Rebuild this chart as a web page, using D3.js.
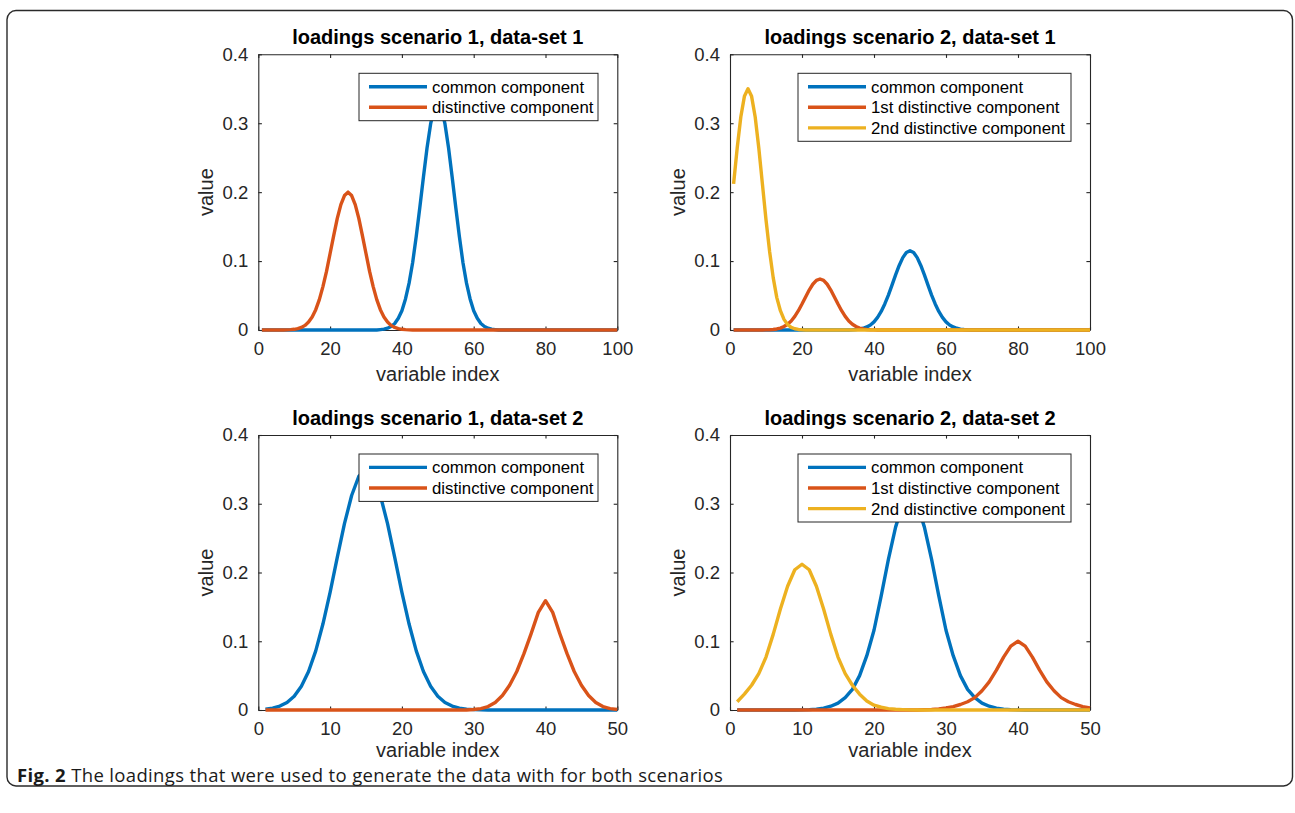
<!DOCTYPE html>
<html>
<head>
<meta charset="utf-8">
<script src="https://cdn.jsdelivr.net/npm/d3@7/dist/d3.min.js"></script>
<style>
  html, body { margin: 0; padding: 0; background: #fff; }
  svg { display: block; }
</style>
</head>
<body>
<svg id="chart" width="1295" height="813"></svg>
<script>
// ---------------- data ----------------
const panelTitles = [
  "loadings scenario 1, data-set 1",
  "loadings scenario 2, data-set 1",
  "loadings scenario 1, data-set 2",
  "loadings scenario 2, data-set 2"
];
const legendLabels2 = ["common component", "distinctive component"];
const legendLabels3 = ["common component", "1st distinctive component", "2nd distinctive component"];
const xTicks100 = [0, 20, 40, 60, 80, 100];
const xTicks50 = [0, 10, 20, 30, 40, 50];
const yTicks = [0, 0.1, 0.2, 0.3, 0.4];
const yTickLabels = ["0", "0.1", "0.2", "0.3", "0.4"];
const xLabel = "variable index";
const yLabel = "value";
const captionBold = "Fig. 2";
const captionText = " The loadings that were used to generate the data with for both scenarios";

// scenario 1, data-set 1 (variables 1..100)
const s1d1Common = [
  0,0,0,0,0,0,0,0,0,0, 0,0,0,0,0,0,0,0,0,0, 0,0,0,0,0,0,0,0,0,0, 0,0,0,
  .0006,.0013,.0026,.0051,.0094,.017,.028,.045,.068,.098,.136,.178,.222,.264,.299,.322,.330,
  .322,.299,.264,.222,.178,.136,.098,.068,.045,.028,.017,.0094,.0051,.0026,.0013,.0006,
  0,0,0,0,0,0,0,0,0,0, 0,0,0,0,0,0,0,0,0,0, 0,0,0,0,0,0,0,0,0,0, 0,0,0,0
];
const s1d1Distinct = [
  0,0,0,0,0,0,0,
  .0002,.0005,.0010,.0019,.0037,.0067,.0115,.0188,.0295,.044,.063,.085,.111,.137,.162,.182,.195,.200,
  .195,.182,.162,.137,.111,.085,.063,.044,.0295,.0188,.0115,.0067,.0037,.0019,.0010,.0005,.0002,
  0,0,0,0,0,0,0,0,0,0, 0,0,0,0,0,0,0,0,0,0, 0,0,0,0,0,0,0,0,0,0, 0,0,0,0,0,0,0,0,0,0,
  0,0,0,0,0,0,0,0,0,0, 0,0,0,0,0,0,0,0
];
// scenario 2, data-set 1 (variables 1..100)
const s2d1Common = [
  0,0,0,0,0,0,0,0,0,0, 0,0,0,0,0,0,0,0,0,0, 0,0,0,0,0,0,0,0,0,0, 0,0,
  .0001,.0003,.0007,.0013,.0025,.0044,.0073,.0118,.0183,.0269,.0378,.0507,.0652,.080,.0937,.105,.1124,.115,
  .1124,.105,.0937,.080,.0652,.0507,.0378,.0269,.0183,.0118,.0073,.0044,.0025,.0013,.0007,.0003,.0001,
  0,0,0,0,0,0,0,0,0,0, 0,0,0,0,0,0,0,0,0,0, 0,0,0,0,0,0,0,0,0,0, 0,0,0
];
const s2d1Distinct1 = [
  0,0,0,0,0,0,0,0,0,
  .0002,.0004,.0008,.0015,.0028,.0050,.0083,.0131,.0197,.028,.0377,.048,.058,.0664,.072,.074,
  .072,.0664,.058,.048,.0377,.028,.0197,.0131,.0083,.0050,.0028,.0015,.0008,.0004,.0002,
  0,0,0,0,0,0,0,0,0,0, 0,0,0,0,0,0,0,0,0,0, 0,0,0,0,0,0,0,0,0,0,
  0,0,0,0,0,0,0,0,0,0, 0,0,0,0,0,0,0,0,0,0, 0,0,0,0,0,0,0,0,0,0
];
const s2d1Distinct2 = [
  .212,.264,.309,.339,.350,.339,.309,.264,.212,.160,.114,.076,.047,.028,.0154,.008,.0039,.0018,.0008,.0003,
  0,0,0,0,0,0,0,0,0,0, 0,0,0,0,0,0,0,0,0,0, 0,0,0,0,0,0,0,0,0,0, 0,0,0,0,0,0,0,0,0,0,
  0,0,0,0,0,0,0,0,0,0, 0,0,0,0,0,0,0,0,0,0, 0,0,0,0,0,0,0,0,0,0, 0,0,0,0,0,0,0,0,0,0
];
// scenario 1, data-set 2 (variables 1..50)
const s1d2Common = [
  .0013,.0028,.0057,.0110,.0201,.0346,.056,.086,.125,.171,.222,.271,.312,.340,.350,
  .340,.312,.271,.222,.171,.125,.086,.056,.0346,.0201,.0110,.0057,.0028,.0013,.0006,.0002,
  0,0,0,0,0,0,0,0,0,0, 0,0,0,0,0,0,0,0,0
];
const s1d2Distinct = [
  0,0,0,0,0,0,0,0,0,0, 0,0,0,0,0,0,0,0,0,0, 0,0,0,0,0,0,0,0,0,
  .0007,.002,.005,.011,.021,.036,.056,.082,.111,.142,.159,
  .142,.111,.082,.056,.036,.021,.011,.005,.002,.0007
];
// scenario 2, data-set 2 (variables 1..50)
const s2d2Common = [
  0,0,0,0,0,0,0,0,0,
  .0002,.0006,.0013,.0028,.0055,.010,.018,.030,.050,.079,.116,.166,.219,.266,.300,.312,
  .300,.266,.219,.166,.116,.079,.050,.030,.018,.010,.0055,.0028,.0013,.0006,.0002,
  0,0,0,0,0,0,0,0,0,0
];
const s2d2Distinct1 = [
  0,0,0,0,0,0,0,0,0,0, 0,0,0,0,0,0,0,0,0,0, 0,0,0,0,0,0,
  .0003,.0007,.0015,.003,.005,.008,.012,.018,.028,.041,.058,.077,.093,.100,
  .093,.077,.058,.041,.028,.018,.012,.008,.005,.003
];
const s2d2Distinct2 = [
  .012,.023,.036,.053,.077,.110,.147,.180,.204,.212,
  .204,.180,.147,.110,.077,.053,.036,.023,.013,.007,.004,.002,.001,.0005,.0002,
  0,0,0,0,0,0,0,0,0,0, 0,0,0,0,0,0,0,0,0,0, 0,0,0,0,0
];

// ---------------- layout / style ----------------
const colors = ["#0072BD", "#D95319", "#EDB120"];
const axisColor = "#262626";
const FONT = "'Liberation Sans', Arial, Helvetica, sans-serif";

const panels = [
  { title: panelTitles[0], left: 258.3, right: 617.3, top: 54.3, bottom: 330, xMax: 100, xTicks: xTicks100,
    series: [s1d1Common, s1d1Distinct], labels: legendLabels2, legendLeft: 359, legendRight: 598, xLabelOff: 51 },
  { title: panelTitles[1], left: 730, right: 1090, top: 54.3, bottom: 330, xMax: 100, xTicks: xTicks100,
    series: [s2d1Common, s2d1Distinct1, s2d1Distinct2], labels: legendLabels3, legendLeft: 798, legendRight: 1071, xLabelOff: 51 },
  { title: panelTitles[2], left: 258.3, right: 617.3, top: 435, bottom: 710, xMax: 50, xTicks: xTicks50,
    series: [s1d2Common, s1d2Distinct], labels: legendLabels2, legendLeft: 359, legendRight: 598, xLabelOff: 46.5 },
  { title: panelTitles[3], left: 730, right: 1090, top: 435, bottom: 710, xMax: 50, xTicks: xTicks50,
    series: [s2d2Common, s2d2Distinct1, s2d2Distinct2], labels: legendLabels3, legendLeft: 798, legendRight: 1071, xLabelOff: 46.5 }
];

const svg = d3.select("#chart");

// outer frame
svg.append("rect")
  .attr("x", 7).attr("y", 10.5).attr("width", 1285.5).attr("height", 775.5)
  .attr("rx", 9).attr("ry", 9)
  .attr("fill", "none").attr("stroke", "#2a2a2a").attr("stroke-width", 1.4);

panels.forEach(p => {
  const g = svg.append("g");
  const x = d3.scaleLinear().domain([0, p.xMax]).range([p.left, p.right]);
  const y = d3.scaleLinear().domain([0, 0.4]).range([p.bottom, p.top]);
  const w = p.right - p.left, h = p.bottom - p.top;
  const tickLen = 3.6;

  g.append("rect").attr("x", p.left).attr("y", p.top).attr("width", w).attr("height", h).attr("fill", "#fff");

  const xAxis = d3.axisBottom(x).tickValues(p.xTicks).tickFormat(d3.format("d"))
    .tickSizeInner(-tickLen).tickSizeOuter(0).tickPadding(12);
  const yAxis = d3.axisLeft(y).tickValues(yTicks).tickFormat((d, i) => yTickLabels[i])
    .tickSizeInner(-tickLen).tickSizeOuter(0).tickPadding(10);
  const xAxisTop = d3.axisTop(x).tickValues(p.xTicks).tickFormat("").tickSizeInner(-tickLen).tickSizeOuter(0);
  const yAxisRight = d3.axisRight(y).tickValues(yTicks).tickFormat("").tickSizeInner(-tickLen).tickSizeOuter(0);

  const styleAxis = sel => {
    sel.selectAll("path").attr("stroke", axisColor).attr("stroke-width", 1.1);
    sel.selectAll("line").attr("stroke", axisColor).attr("stroke-width", 1.1);
    sel.selectAll("text").attr("fill", axisColor).style("font-family", FONT).style("font-size", "18.5px");
  };
  g.append("g").attr("transform", `translate(0,${p.bottom})`).call(xAxis).call(styleAxis);
  g.append("g").attr("transform", `translate(${p.left},0)`).call(yAxis).call(styleAxis);
  g.append("g").attr("transform", `translate(0,${p.top})`).call(xAxisTop).call(styleAxis);
  g.append("g").attr("transform", `translate(${p.right},0)`).call(yAxisRight).call(styleAxis);
  g.selectAll(".domain").attr("fill", "none");

  g.append("text").attr("x", (p.left + p.right) / 2).attr("y", p.top - 10.5)
    .attr("text-anchor", "middle").attr("fill", "#000")
    .style("font-family", FONT).style("font-weight", "bold").style("font-size", "20px")
    .text(p.title);

  g.append("text").attr("x", (p.left + p.right) / 2).attr("y", p.bottom + p.xLabelOff)
    .attr("text-anchor", "middle").attr("fill", axisColor)
    .style("font-family", FONT).style("font-size", "20px").text(xLabel);
  g.append("text")
    .attr("transform", `translate(${p.left - 45},${(p.top + p.bottom) / 2}) rotate(-90)`)
    .attr("text-anchor", "middle").attr("fill", axisColor)
    .style("font-family", FONT).style("font-size", "20px").text(yLabel);

  const line = d3.line().x((d, i) => x(i + 1)).y(d => y(d));
  p.series.forEach((s, k) => {
    g.append("path").datum(s).attr("d", line)
      .attr("fill", "none").attr("stroke", colors[k]).attr("stroke-width", 3.4)
      .attr("stroke-linejoin", "round").attr("stroke-linecap", "butt");
  });

  const rowGap = 20.6;
  const legTop = p.top + 19;
  const legH = 13.4 * 2 + rowGap * (p.labels.length - 1);
  const lg = g.append("g");
  lg.append("rect").attr("x", p.legendLeft).attr("y", legTop)
    .attr("width", p.legendRight - p.legendLeft).attr("height", legH)
    .attr("fill", "#fff").attr("stroke", axisColor).attr("stroke-width", 1);
  p.labels.forEach((lab, k) => {
    const cy = legTop + 13.4 + k * rowGap;
    lg.append("line").attr("x1", p.legendLeft + 10).attr("x2", p.legendLeft + 68)
      .attr("y1", cy).attr("y2", cy).attr("stroke", colors[k]).attr("stroke-width", 3.4);
    lg.append("text").attr("x", p.legendLeft + 73).attr("y", cy).attr("dy", "0.36em")
      .attr("fill", "#000").style("font-family", FONT).style("font-size", "16.8px").text(lab);
  });
});

// caption
const cap = svg.append("text").attr("x", 17).attr("y", 781.5)
  .style("font-family", "'Open Sans', 'Noto Sans', sans-serif").style("font-size", "18.5px")
  .style("letter-spacing", "0.35px").attr("fill", "#1a1a1a");
cap.append("tspan").style("font-weight", "bold").text(captionBold);
cap.append("tspan").text(captionText);
</script>
</body>
</html>
